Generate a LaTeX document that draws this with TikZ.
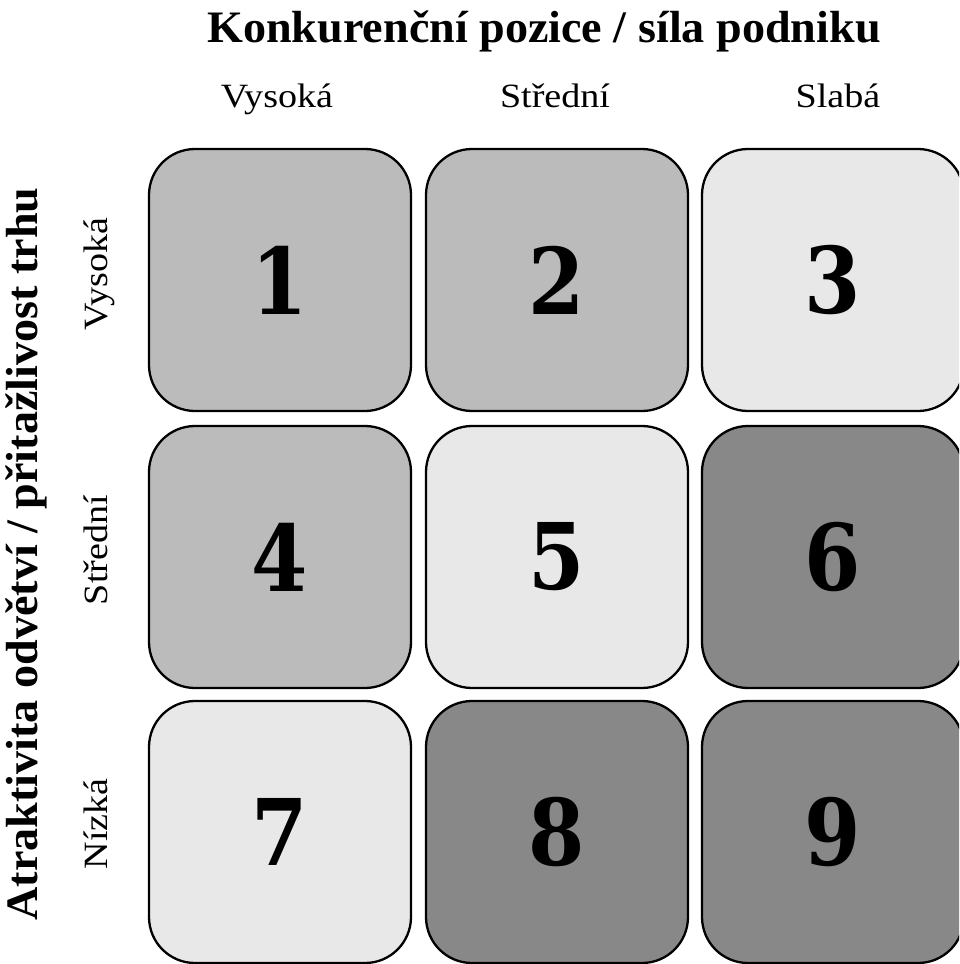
\documentclass[tikz,border=0pt]{standalone}
\usepackage{fontspec}
\setmainfont{Liberation Serif}
\newfontfamily\digitfont[FakeStretch=0.88]{DejaVu Serif}
\definecolor{cmid}{HTML}{BBBBBB}
\definecolor{clight}{HTML}{E8E8E8}
\definecolor{cdark}{HTML}{888888}
\begin{document}
\begin{tikzpicture}[x=1pt,y=-1pt,
  cell/.style={draw=black,line width=2.3pt,rounded corners=46pt,minimum width=262pt,minimum height=262pt,inner sep=0pt,font=\digitfont\fontsize{92}{92}\selectfont\bfseries},
  heading/.style={font=\fontsize{45}{50}\selectfont\bfseries\addfontfeature{FakeStretch=1.025},inner sep=0pt},
  lbl/.style={font=\fontsize{34}{40}\selectfont\addfontfeature{FakeStretch=1.12},inner sep=0pt}]
\useasboundingbox (0,0) rectangle (959,964);
\clip (0,0) rectangle (959,964);
\node[heading,anchor=base] (title) at (544,42) {Konkurenční pozice / síla podniku};
\node[lbl,anchor=base] (c1) at (277,107) {Vysoká};
\node[lbl,anchor=base] (c2) at (555,107) {Střední};
\node[lbl,anchor=base] (c3) at (838,107) {Slabá};
\node[heading,anchor=base,rotate=90] (ytitle) at (37,554) {Atraktivita odvětví / přitažlivost trhu};
\node[lbl,anchor=base,rotate=90] (r1) at (107,274) {Vysoká};
\node[lbl,anchor=base,rotate=90] (r2) at (107,550) {Střední};
\node[lbl,anchor=base,rotate=90] (r3) at (107,824) {Nízká};
\node[cell,fill=cmid] (n1) at (280,280) {1};
\node[cell,fill=cmid] (n2) at (557,280) {2};
\node[cell,fill=clight] (n3) at (833,280) {3};
\node[cell,fill=cmid] (n4) at (280,557) {4};
\node[cell,fill=clight] (n5) at (557,557) {5};
\node[cell,fill=cdark] (n6) at (833,557) {6};
\node[cell,fill=clight] (n7) at (280,832) {7};
\node[cell,fill=cdark] (n8) at (557,832) {8};
\node[cell,fill=cdark] (n9) at (833,832) {9};
\end{tikzpicture}
\end{document}
